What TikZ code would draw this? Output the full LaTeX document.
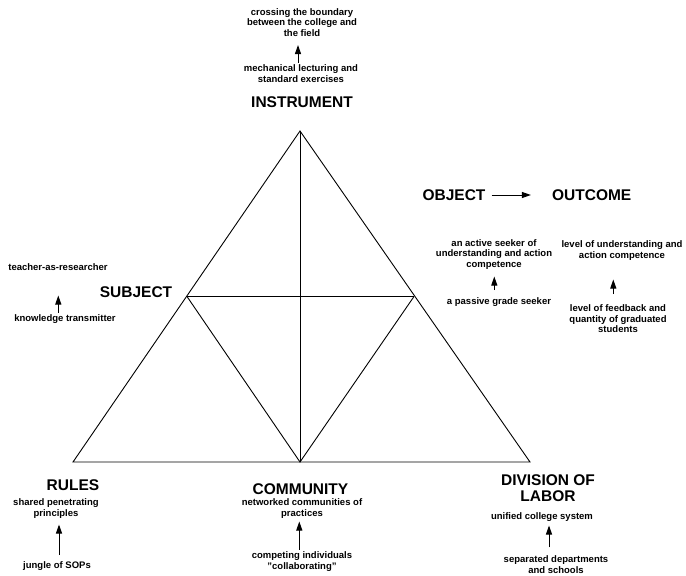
\documentclass[tikz,border=0pt]{standalone}
\usepackage{fontspec}
\setmainfont{Liberation Sans}
\usetikzlibrary{arrows.meta}
\begin{document}
\begin{tikzpicture}[x=1pt,y=-1pt,
  big/.style={font=\bfseries\fontsize{15.5}{16}\selectfont, inner sep=0pt, align=center},
  small/.style={font=\bfseries\fontsize{9.5}{10.8}\selectfont, inner sep=0pt, align=center},
  edge/.style={line width=0.9pt, line join=miter},
  arr/.style={line width=1pt, -{Triangle[length=9pt,width=6pt]}}]
\useasboundingbox (0,0) rectangle (686,576);
% triangle corners
\coordinate (A) at (300,131);
\coordinate (BL) at (73,462);
\coordinate (BR) at (530,462);
\coordinate (BM) at (300,462);
\coordinate (ML) at (187,296.5);
\coordinate (MR) at (414,296.5);
\draw[edge] (A) -- (BL) -- (BR) -- cycle;
\draw[edge] (ML) -- (MR);
\draw[edge] (A) -- (BM);
\draw[edge] (ML) -- (BM) -- (MR);
% INSTRUMENT
\node[big] (instr) at (302,102) {INSTRUMENT};
\node[small] (cross) at (302,22.5) {crossing the boundary\\between the college and\\the field};
\node[small] (mech) at (301,73.3) {mechanical lecturing and\\standard exercises};
\coordinate (tI) at (298,45);
\draw[arr, shorten <=1.5pt] (mech.north -| tI) -- (tI);
% SUBJECT
\node[big] (subj) at (136,291.7) {SUBJECT};
\node[small] (teach) at (58,266.7) {teacher-as-researcher};
\node[small] (know) at (65,319) {knowledge transmitter};
\coordinate (tS) at (58.3,295.5);
\draw[arr, shorten <=1.5pt] (know.north -| tS) -- (tS);
% OBJECT -> OUTCOME
\node[big] (obj) at (454,195) {OBJECT};
\node[big] (out) at (591.7,195) {OUTCOME};
\draw[arr, shorten <=6pt, shorten >=21pt] (obj.east) -- (out.west);
\node[small] (active) at (494,254.5) {an active seeker of\\understanding and action\\competence};
\node[small] (passive) at (499,301.7) {a passive grade seeker};
\coordinate (tO) at (494.3,276.5);
\draw[arr, shorten <=7pt] (passive.north -| tO) -- (tO);
\node[small] (levu) at (622,250.5) {level of understanding and\\action competence};
\node[small] (levf) at (618,318.7) {level of feedback and\\quantity of graduated\\students};
\coordinate (tU) at (613.3,279.5);
\draw[arr, shorten <=10pt] (levf.north -| tU) -- (tU);
% RULES
\node[big] (rules) at (73,485) {RULES};
\node[small] (shared) at (56,508.7) {shared penetrating\\principles};
\node[small] (jungle) at (57,565.7) {jungle of SOPs};
\coordinate (tR) at (59,524.5);
\draw[arr, shorten <=6pt] (jungle.north -| tR) -- (tR);
% COMMUNITY
\node[big] (comm) at (300.5,489.3) {COMMUNITY};
\node[small] (netw) at (302,508.5) {networked communities of\\practices};
\node[small] (compet) at (302,561.2) {competing individuals\\"collaborating"};
\coordinate (tC) at (299.3,521.5);
\draw[arr, shorten <=1.5pt] (compet.north -| tC) -- (tC);
% DIVISION OF LABOR
\node[big] (div) at (548,488) {DIVISION OF\\LABOR};
\node[small] (unif) at (542,516.7) {unified college system};
\node[small] (sep) at (556,564.5) {separated departments\\and schools};
\coordinate (tD) at (549,525.5);
\draw[arr, shorten <=8pt] (sep.north -| tD) -- (tD);
\end{tikzpicture}
\end{document}
